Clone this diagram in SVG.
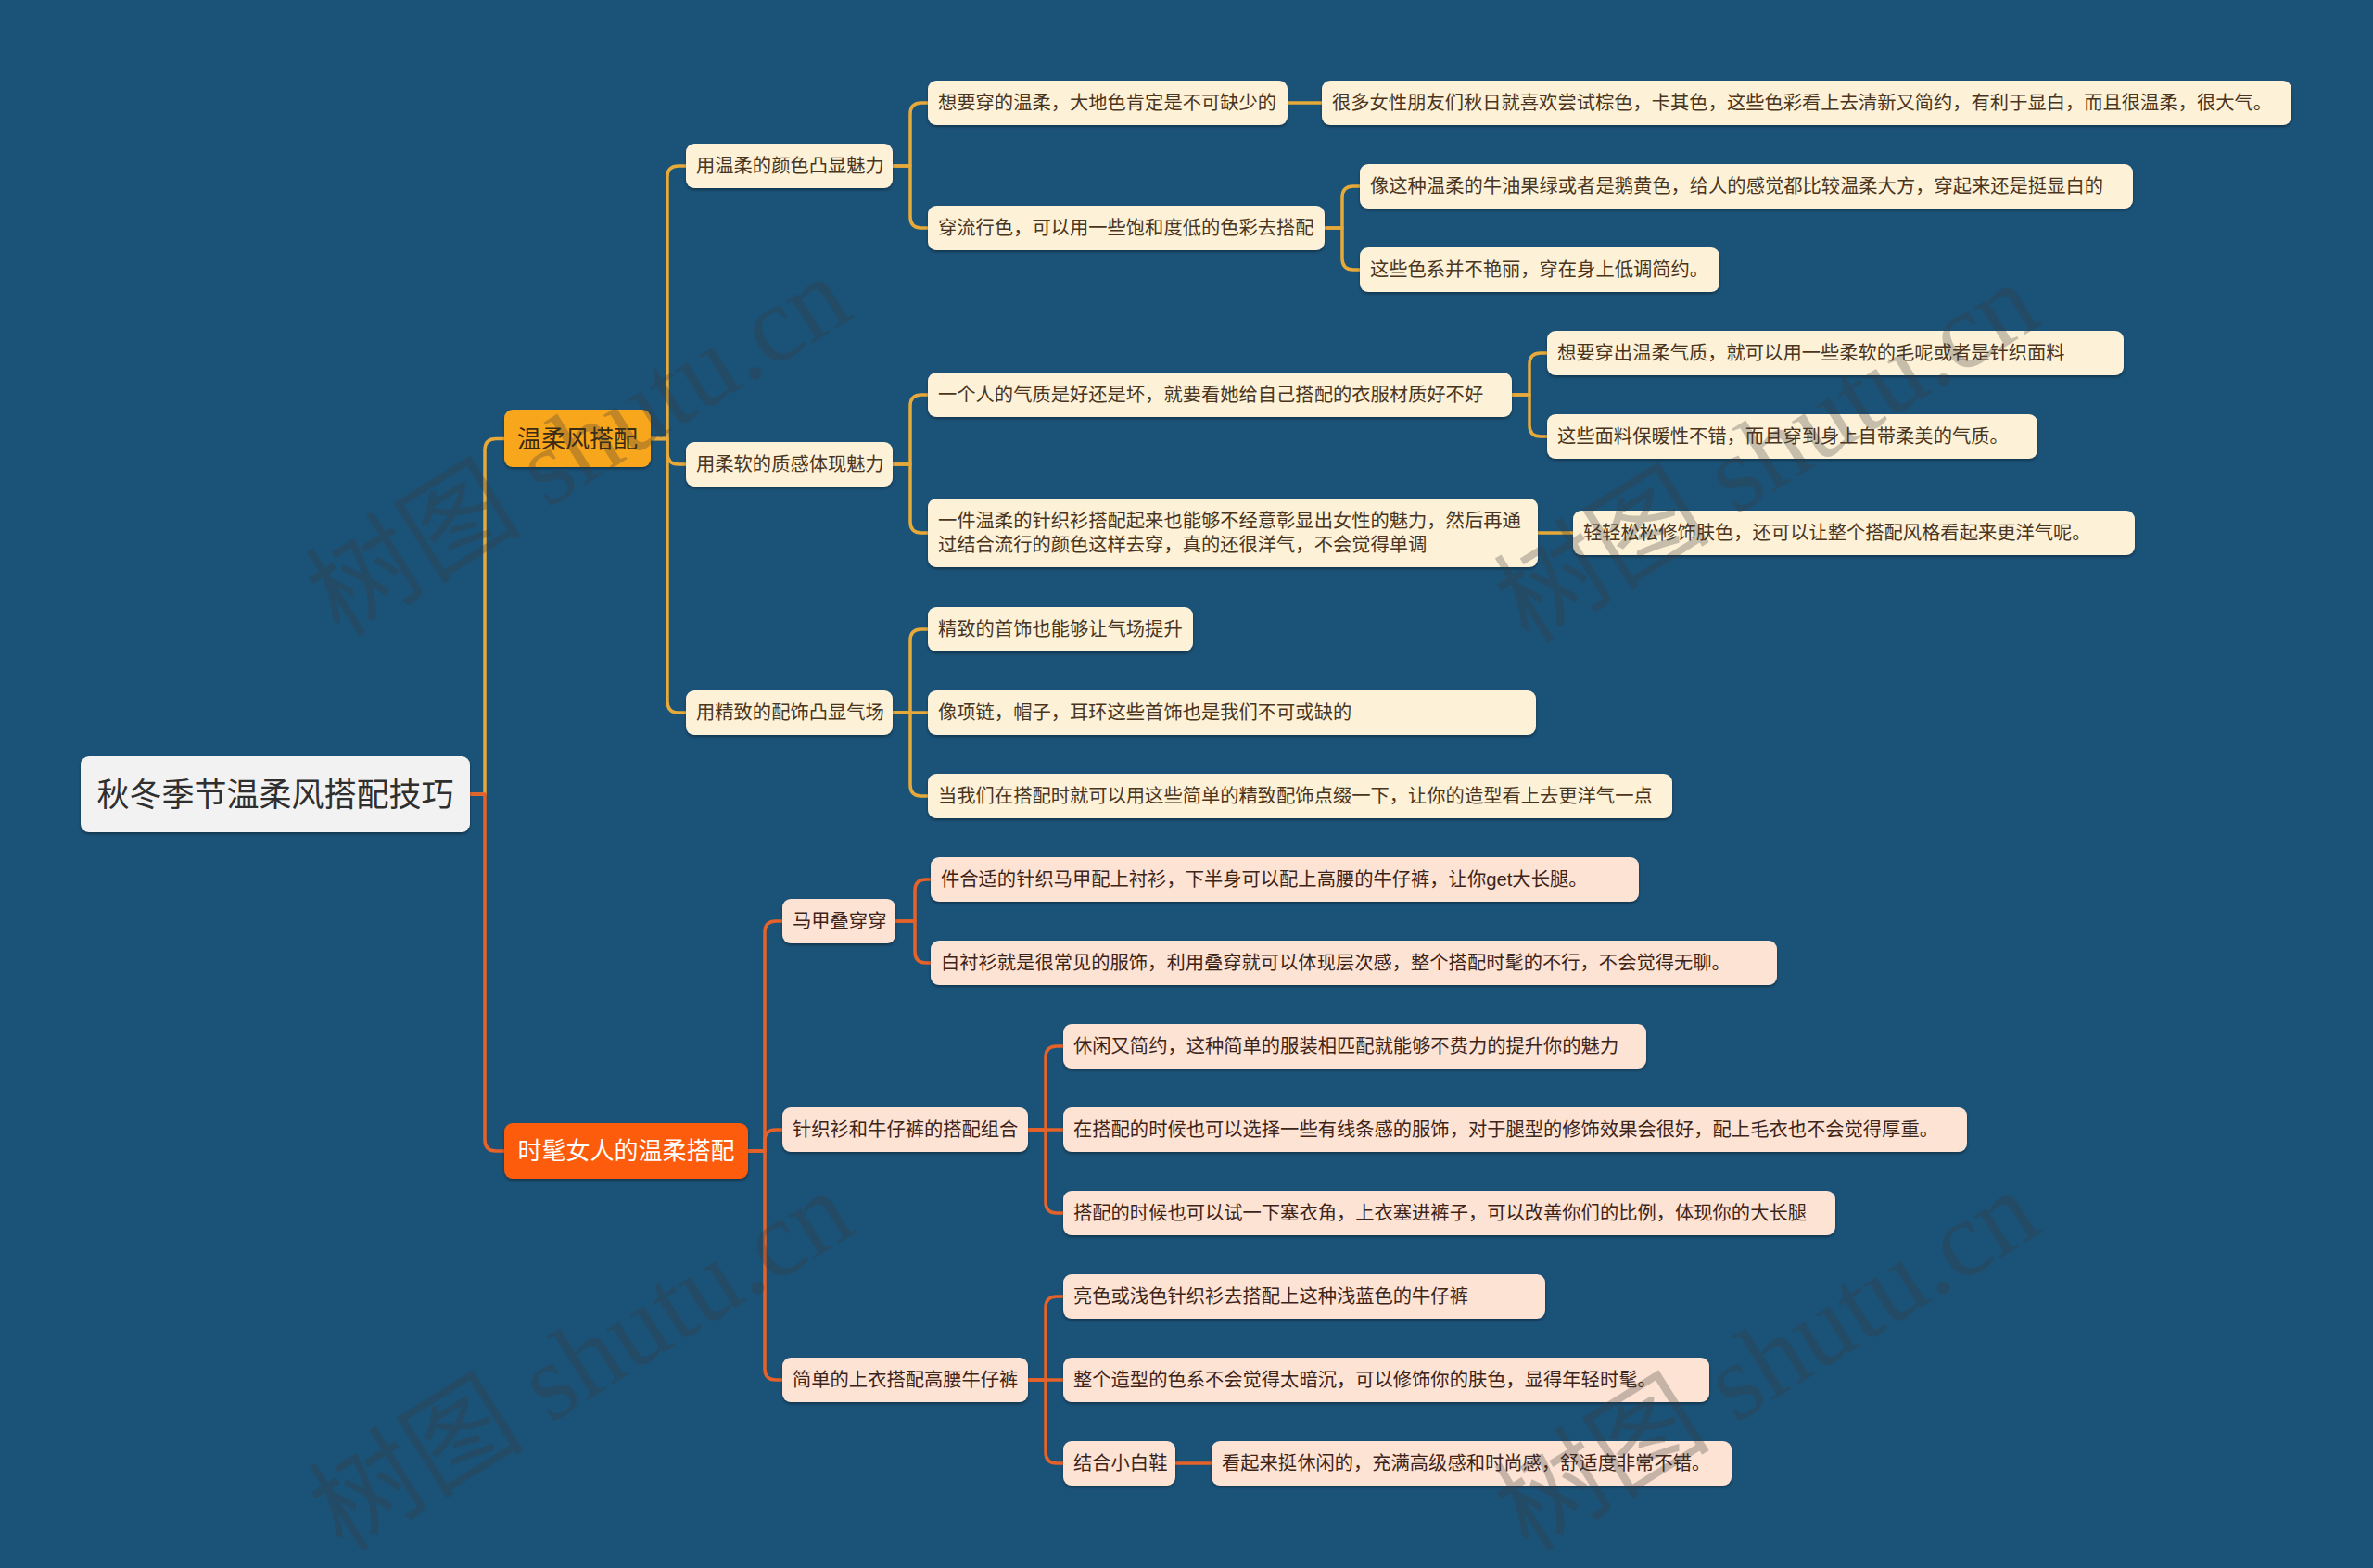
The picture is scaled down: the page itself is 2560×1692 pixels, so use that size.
<svg xmlns="http://www.w3.org/2000/svg" width="2560" height="1692" viewBox="0 0 2560 1692">
<defs>
<filter id="sh" x="-5%" y="-20%" width="110%" height="150%">
<feDropShadow dx="0" dy="2" stdDeviation="1.5" flood-color="#000" flood-opacity="0.35"/>
</filter>
<style>
.bg{fill:#1b5277}
.c1{fill:none;stroke:#e6a93a;stroke-width:3.5;stroke-linecap:round;stroke-linejoin:round}
.c2{fill:none;stroke:#e5622a;stroke-width:3.5;stroke-linecap:round;stroke-linejoin:round}
.n1 rect{fill:#fdf1d8;filter:url(#sh)}
.n2 rect{fill:#fde3d4;filter:url(#sh)}
.t{font-family:'Liberation Sans','Noto Sans CJK SC',sans-serif;font-size:20.3px;dominant-baseline:central}
.n1 text{fill:#4a3520}
.n2 text{fill:#3d2418}
.root rect{fill:#f2f2f2;filter:url(#sh)}
.root text{font-size:35px;fill:#2f2f2f;text-anchor:middle}
.b text{font-size:26px;text-anchor:middle}
.wm{font-family:'Liberation Serif','Noto Sans CJK SC',serif;font-size:117px;fill:#3a3a3a;opacity:0.28}
</style>
</defs>
<rect class="bg" x="0" y="0" width="2560" height="1692"/>

<g id="connectors">
<path class="c1" d="M507,857 H523 V485.5 Q523,473.5 535,473.5 H544"/>
<path class="c1" d="M702,473.5 H720 V191 Q720,179 732,179 H740"/>
<path class="c1" d="M702,473.5 H720 V489 Q720,501 732,501 H740"/>
<path class="c1" d="M702,473.5 H720 V757 Q720,769 732,769 H740"/>
<path class="c1" d="M963,179 H982 V123 Q982,111 994,111 H1001"/>
<path class="c1" d="M963,179 H982 V234 Q982,246 994,246 H1001"/>
<path class="c1" d="M1389,111 H1426"/>
<path class="c1" d="M1429,246 H1448 V213 Q1448,201 1460,201 H1467"/>
<path class="c1" d="M1429,246 H1448 V279 Q1448,291 1460,291 H1467"/>
<path class="c1" d="M963,501 H982 V438 Q982,426 994,426 H1001"/>
<path class="c1" d="M963,501 H982 V563 Q982,575 994,575 H1001"/>
<path class="c1" d="M1631,426 H1650 V393 Q1650,381 1662,381 H1669"/>
<path class="c1" d="M1631,426 H1650 V459 Q1650,471 1662,471 H1669"/>
<path class="c1" d="M1659,575 H1697"/>
<path class="c1" d="M963,769 H982 V691 Q982,679 994,679 H1001"/>
<path class="c1" d="M963,769 H1001"/>
<path class="c1" d="M963,769 H982 V847 Q982,859 994,859 H1001"/>
<path class="c2" d="M507,857 H523 V1230 Q523,1242 535,1242 H544"/>
<path class="c2" d="M807,1242 H825 V1006 Q825,994 837,994 H844"/>
<path class="c2" d="M807,1242 H825 V1231 Q825,1219 837,1219 H844"/>
<path class="c2" d="M807,1242 H825 V1477 Q825,1489 837,1489 H844"/>
<path class="c2" d="M966,994 H987 V961 Q987,949 999,949 H1004"/>
<path class="c2" d="M966,994 H987 V1027 Q987,1039 999,1039 H1004"/>
<path class="c2" d="M1109,1219 H1128 V1141 Q1128,1129 1140,1129 H1147"/>
<path class="c2" d="M1109,1219 H1147"/>
<path class="c2" d="M1109,1219 H1128 V1297 Q1128,1309 1140,1309 H1147"/>
<path class="c2" d="M1109,1489 H1128 V1411 Q1128,1399 1140,1399 H1147"/>
<path class="c2" d="M1109,1489 H1147"/>
<path class="c2" d="M1109,1489 H1128 V1567 Q1128,1579 1140,1579 H1147"/>
<path class="c2" d="M1268,1579 H1307"/>
</g>

<g id="root" class="root"><rect x="87" y="816" width="420" height="82" rx="9"/><text class="t" x="297" y="857">秋冬季节温柔风搭配技巧</text></g>

<g id="b1" class="b"><rect x="544" y="442" width="158" height="62" rx="9" fill="#f8a61e" filter="url(#sh)"/><text class="t" x="623" y="473.5" fill="#3a2a14">温柔风搭配</text></g>
<g id="b2" class="b"><rect x="544" y="1212" width="263" height="60" rx="9" fill="#fd5c07" filter="url(#sh)"/><text class="t" x="675.5" y="1242" fill="#ffffff">时髦女人的温柔搭配</text></g>

<g id="A1" class="n1"><rect x="740" y="155" width="223" height="48" rx="9"/><text class="t" x="751" y="179">用温柔的颜色凸显魅力</text></g>
<g id="A2" class="n1"><rect x="740" y="477" width="223" height="48" rx="9"/><text class="t" x="751" y="501">用柔软的质感体现魅力</text></g>
<g id="A3" class="n1"><rect x="740" y="745" width="223" height="48" rx="9"/><text class="t" x="751" y="769">用精致的配饰凸显气场</text></g>

<g id="A1a" class="n1"><rect x="1001" y="87" width="388" height="48" rx="9"/><text class="t" x="1012" y="111">想要穿的温柔，大地色肯定是不可缺少的</text></g>
<g id="A1a1" class="n1"><rect x="1426" y="87" width="1046" height="48" rx="9"/><text class="t" x="1437" y="111">很多女性朋友们秋日就喜欢尝试棕色，卡其色，这些色彩看上去清新又简约，有利于显白，而且很温柔，很大气。</text></g>
<g id="A1b" class="n1"><rect x="1001" y="222" width="428" height="48" rx="9"/><text class="t" x="1012" y="246">穿流行色，可以用一些饱和度低的色彩去搭配</text></g>
<g id="A1b1" class="n1"><rect x="1467" y="177" width="834" height="48" rx="9"/><text class="t" x="1478" y="201">像这种温柔的牛油果绿或者是鹅黄色，给人的感觉都比较温柔大方，穿起来还是挺显白的</text></g>
<g id="A1b2" class="n1"><rect x="1467" y="267" width="388" height="48" rx="9"/><text class="t" x="1478" y="291">这些色系并不艳丽，穿在身上低调简约。</text></g>

<g id="A2a" class="n1"><rect x="1001" y="402" width="630" height="48" rx="9"/><text class="t" x="1012" y="426">一个人的气质是好还是坏，就要看她给自己搭配的衣服材质好不好</text></g>
<g id="A2a1" class="n1"><rect x="1669" y="357" width="622" height="48" rx="9"/><text class="t" x="1680" y="381">想要穿出温柔气质，就可以用一些柔软的毛呢或者是针织面料</text></g>
<g id="A2a2" class="n1"><rect x="1669" y="447" width="529" height="48" rx="9"/><text class="t" x="1680" y="471">这些面料保暖性不错，而且穿到身上自带柔美的气质。</text></g>
<g id="A2b" class="n1"><rect x="1001" y="538" width="658" height="74" rx="9"/><text class="t" x="1012" y="562">一件温柔的针织衫搭配起来也能够不经意彰显出女性的魅力，然后再通</text><text class="t" x="1012" y="588">过结合流行的颜色这样去穿，真的还很洋气，不会觉得单调</text></g>
<g id="A2b1" class="n1"><rect x="1697" y="551" width="606" height="48" rx="9"/><text class="t" x="1708" y="575">轻轻松松修饰肤色，还可以让整个搭配风格看起来更洋气呢。</text></g>

<g id="A3a" class="n1"><rect x="1001" y="655" width="286" height="48" rx="9"/><text class="t" x="1012" y="679">精致的首饰也能够让气场提升</text></g>
<g id="A3b" class="n1"><rect x="1001" y="745" width="656" height="48" rx="9"/><text class="t" x="1012" y="769">像项链，帽子，耳环这些首饰也是我们不可或缺的</text></g>
<g id="A3c" class="n1"><rect x="1001" y="835" width="803" height="48" rx="9"/><text class="t" x="1012" y="859">当我们在搭配时就可以用这些简单的精致配饰点缀一下，让你的造型看上去更洋气一点</text></g>

<g id="B1" class="n2"><rect x="844" y="970" width="122" height="48" rx="9"/><text class="t" x="855" y="994">马甲叠穿穿</text></g>
<g id="B1a" class="n2"><rect x="1004" y="925" width="764" height="48" rx="9"/><text class="t" x="1015" y="949">件合适的针织马甲配上衬衫，下半身可以配上高腰的牛仔裤，让你get大长腿。</text></g>
<g id="B1b" class="n2"><rect x="1004" y="1015" width="913" height="48" rx="9"/><text class="t" x="1015" y="1039">白衬衫就是很常见的服饰，利用叠穿就可以体现层次感，整个搭配时髦的不行，不会觉得无聊。</text></g>

<g id="B2" class="n2"><rect x="844" y="1195" width="265" height="48" rx="9"/><text class="t" x="855" y="1219">针织衫和牛仔裤的搭配组合</text></g>
<g id="B2a" class="n2"><rect x="1147" y="1105" width="629" height="48" rx="9"/><text class="t" x="1158" y="1129">休闲又简约，这种简单的服装相匹配就能够不费力的提升你的魅力</text></g>
<g id="B2b" class="n2"><rect x="1147" y="1195" width="975" height="48" rx="9"/><text class="t" x="1158" y="1219">在搭配的时候也可以选择一些有线条感的服饰，对于腿型的修饰效果会很好，配上毛衣也不会觉得厚重。</text></g>
<g id="B2c" class="n2"><rect x="1147" y="1285" width="833" height="48" rx="9"/><text class="t" x="1158" y="1309">搭配的时候也可以试一下塞衣角，上衣塞进裤子，可以改善你们的比例，体现你的大长腿</text></g>

<g id="B3" class="n2"><rect x="844" y="1465" width="265" height="48" rx="9"/><text class="t" x="855" y="1489">简单的上衣搭配高腰牛仔裤</text></g>
<g id="B3a" class="n2"><rect x="1147" y="1375" width="520" height="48" rx="9"/><text class="t" x="1158" y="1399">亮色或浅色针织衫去搭配上这种浅蓝色的牛仔裤</text></g>
<g id="B3b" class="n2"><rect x="1147" y="1465" width="697" height="48" rx="9"/><text class="t" x="1158" y="1489">整个造型的色系不会觉得太暗沉，可以修饰你的肤色，显得年轻时髦。</text></g>
<g id="B3c" class="n2"><rect x="1147" y="1555" width="121" height="48" rx="9"/><text class="t" x="1158" y="1579">结合小白鞋</text></g>
<g id="B3c1" class="n2"><rect x="1307" y="1555" width="561" height="48" rx="9"/><text class="t" x="1318" y="1579">看起来挺休闲的，充满高级感和时尚感，舒适度非常不错。</text></g>

<g id="watermarks">
<text class="wm" x="645" y="515" text-anchor="middle" transform="rotate(-32 645 515)">树图 shutu.cn</text>
<text class="wm" x="1927" y="522" text-anchor="middle" transform="rotate(-32 1927 522)">树图 shutu.cn</text>
<text class="wm" x="648" y="1502" text-anchor="middle" transform="rotate(-32 648 1502)">树图 shutu.cn</text>
<text class="wm" x="1927" y="1502" text-anchor="middle" transform="rotate(-32 1927 1502)">树图 shutu.cn</text>
</g>
</svg>
